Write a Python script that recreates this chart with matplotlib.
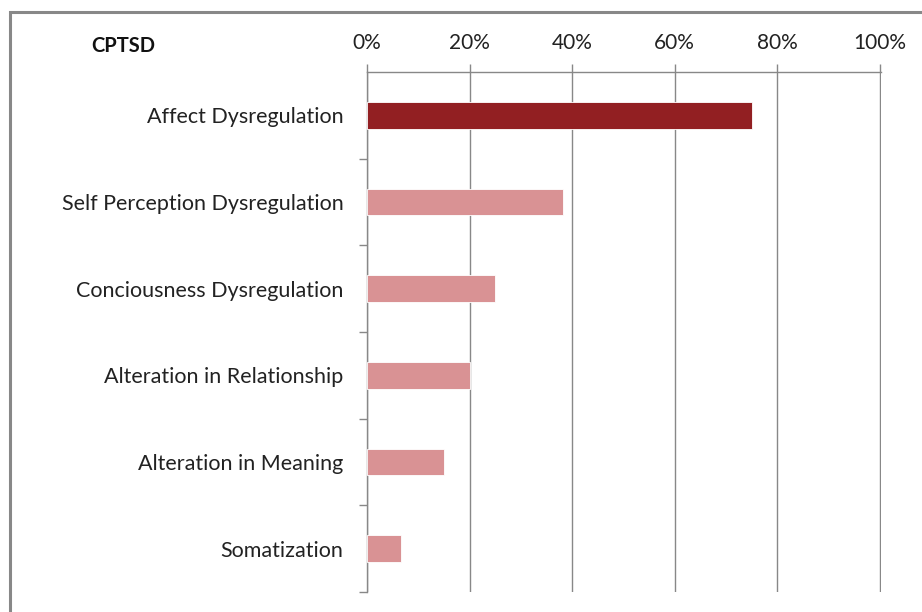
import matplotlib.pyplot as plt
import matplotlib.patches as mpatches
from matplotlib.ticker import PercentFormatter

# Dados
categorias = ["Affect Dysregulation", "Self Perception Dysregulation",
              "Conciousness Dysregulation", "Alteration in Relationship",
              "Alteration in Meaning", "Somatization"]
valores = [0.75, 0.383, 0.25, 0.20, 0.15, 0.066]
cores = ["#921F22", "#D99294", "#D99294", "#D99294", "#D99294", "#D99294"]
x_ticks = [0, 0.2, 0.4, 0.6, 0.8, 1.0]

plt.rcParams['font.family'] = ['Lato', 'DejaVu Sans']

fig = plt.figure(figsize=(9.22, 6.12), dpi=100)
ax = fig.add_axes([367 / 922, 1 - 592 / 612, (881 - 367) / 922, (592 - 72) / 612])

y = list(range(len(categorias)))
ax.barh(y, valores, height=0.31, color=cores, edgecolor="white", linewidth=0.6, zorder=3)
ax.set_ylim(len(categorias) - 0.5, -0.5)
ax.set_xlim(0, 1.002)

# eixo x no topo
ax.xaxis.tick_top()
ax.set_xticks(x_ticks)
ax.xaxis.set_major_formatter(PercentFormatter(1.0, decimals=0))
ax.tick_params(axis="x", length=6, color="#888888", width=1, labelsize=15,
               labelcolor="#222222", pad=8)
ax.grid(axis="x", color="#888888", linewidth=1, zorder=0)

# categorias: rótulos no centro, marcas nas fronteiras
ax.set_yticks([i + 0.5 for i in y])
ax.set_yticklabels([])
ax.tick_params(axis="y", which="major", length=6, color="#888888", width=1)
ax.set_yticks(y, minor=True)
ax.set_yticklabels(categorias, minor=True)
ax.tick_params(axis="y", which="minor", length=0, labelsize=15.5,
               labelcolor="#222222", pad=17)

for s in ["right", "bottom"]:
    ax.spines[s].set_visible(False)
for s in ["top", "left"]:
    ax.spines[s].set_color("#888888")
    ax.spines[s].set_linewidth(1)

fig.text(123 / 922, 1 - 46 / 612, "CPTSD", fontsize=14.5, fontweight="bold",
         ha="center", va="center", color="#111111")

# moldura
fig.patches.append(mpatches.Rectangle((10 / 922, -0.05), 1.2, 1 - 12 / 612 + 0.05,
                                      transform=fig.transFigure, fill=False,
                                      edgecolor="#888888", linewidth=2.2))

fig.savefig("out.png", dpi=100)
